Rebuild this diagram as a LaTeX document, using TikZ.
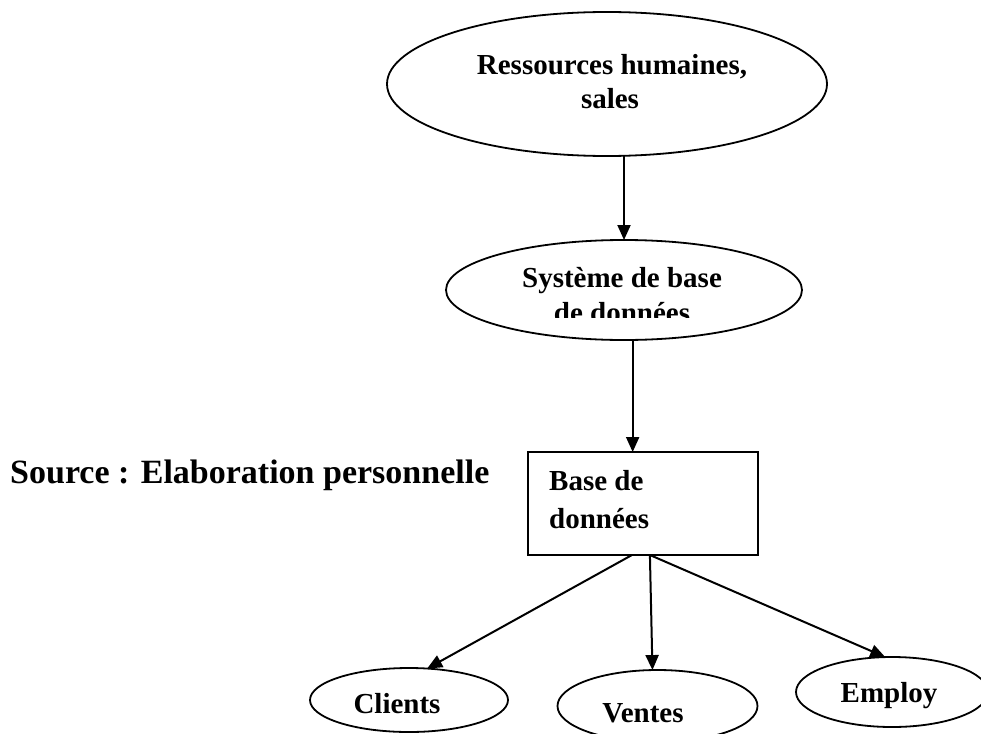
\documentclass[tikz,border=0pt]{standalone}
\usepackage{fontspec}
\setmainfont{Liberation Serif}
\usetikzlibrary{shapes.geometric,arrows.meta,calc}
\begin{document}
\begin{tikzpicture}[x=1pt,y=-1pt,
  oval/.style={draw,ellipse,line width=1.8pt,inner sep=0pt,outer sep=0pt},
  boxnode/.style={draw,line width=1.5pt,inner sep=0pt,outer sep=0pt},
  lbl/.style={font=\fontsize{29}{33}\selectfont\bfseries,inner sep=0pt,anchor=base},
  arr/.style={line width=2pt,-{Triangle[length=15pt,width=13pt]}}]
\useasboundingbox (0,0) rectangle (981,733);
\clip (0,0) rectangle (981,733);

% top level
\node[oval,minimum width=440pt,minimum height=144pt] (rh) at (607,84) {};
\node[lbl] (rhA) at (612,75) {Ressources humaines,};
\node[lbl] (rhB) at (610,108) {sales};

% database system
\node[oval,minimum width=356pt,minimum height=100pt] (sys) at (624,290) {};
\node[lbl] (sysA) at (622,287) {Système de base};
\begin{scope}
  \clip (447,240) rectangle (802,317);
  \node[lbl] (sysB) at (622,322) {de données};
\end{scope}

% database
\node[boxnode,minimum width=230pt,minimum height=103pt,anchor=north west] (db) at (528,452) {};
\node[lbl,anchor=base west] (dbA) at (549,490) {Base de};
\node[lbl,anchor=base west] (dbB) at (549,528) {données};

% tables
\node[oval,minimum width=198pt,minimum height=64pt] (cli) at (409,700) {};
\node[lbl] (cliT) at (397,713) {Clients};
\node[oval,minimum width=200pt,minimum height=72pt] (ven) at (657.5,706) {};
\node[lbl] (venT) at (643,722) {Ventes};
\node[oval,minimum width=192pt,minimum height=70pt] (emp) at (892,692) {};
\node[lbl] (empT) at (889,702) {Employ};

% source line
\node[font=\fontsize{34}{40}\selectfont\bfseries,anchor=base west,inner sep=0pt] (src) at (10,483) {Source : Elaboration personnelle};

% connectors
\coordinate (a2) at ($(db.north west)!0.455!(db.north east)$);
\coordinate (b1) at ($(db.south west)!0.452!(db.south east)$);
\coordinate (b2) at ($(db.south west)!0.53!(db.south east)$);
\draw[arr] (rh.south -| sys.north) -- (sys.north);
\draw[arr] (a2 |- sys.south) -- (a2);
\draw[arr] (b1) -- (cli.60);
\draw[arr] (b2) -- (ven.98);
\draw[arr] (b2) -- (emp.101);
\end{tikzpicture}
\end{document}
